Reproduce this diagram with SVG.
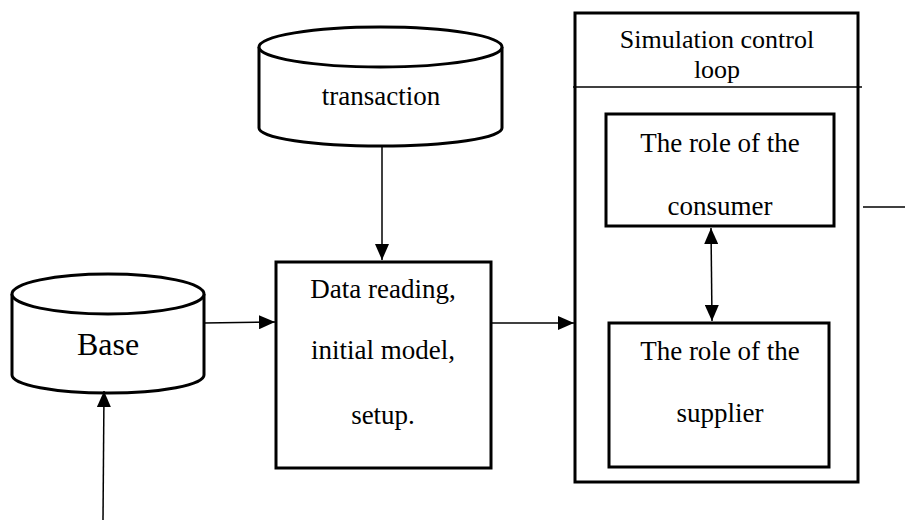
<svg xmlns="http://www.w3.org/2000/svg" width="905" height="529" viewBox="0 0 905 529">
  <style>
    .box { fill: #fff; stroke: #000; stroke-width: 3; }
    .edge { fill: none; stroke: #000; stroke-width: 1.5; }
    .lbl { font-family: "Liberation Serif", "Times New Roman", serif; font-size: 27px; fill: #000; text-anchor: middle; }
    .ttl { font-size: 26px; }
  </style>
  <defs>
    <marker id="arr" viewBox="0 0 16 14" refX="16" refY="7" markerWidth="16" markerHeight="14" markerUnits="userSpaceOnUse" orient="auto-start-reverse">
      <path d="M0,0 L16,7 L0,14 Z" fill="#000"/>
    </marker>
  </defs>
  <rect width="905" height="529" fill="#fff"/>

  <!-- Transaction data store -->
  <g id="transaction">
    <path class="box" d="M259,47 L259,128 A121.5,18 0 0 0 502,128 L502,47"/>
    <ellipse class="box" cx="380.5" cy="47" rx="121.5" ry="20"/>
    <text class="lbl" x="381" y="105">transaction</text>
  </g>

  <!-- Base data store -->
  <g id="base">
    <path class="box" d="M12,294 L12,375 A96,18 0 0 0 204,375 L204,294"/>
    <ellipse class="box" cx="108" cy="294" rx="96" ry="20"/>
    <text class="lbl" x="108" y="355" style="font-size:32px">Base</text>
  </g>

  <!-- Data reading / setup step -->
  <g id="setup">
    <rect class="box" x="276" y="262" width="215" height="206"/>
    <text class="lbl" x="383" y="298">Data reading,</text>
    <text class="lbl" x="383" y="359">initial model,</text>
    <text class="lbl" x="383" y="424">setup.</text>
  </g>

  <!-- Simulation control loop container -->
  <g id="loop">
    <rect class="box" x="575" y="13" width="283" height="469"/>
    <line x1="573" y1="87" x2="862" y2="87" stroke="#000" stroke-width="1.5"/>
    <text class="lbl ttl" x="717" y="48">Simulation control</text>
    <text class="lbl ttl" x="717" y="78">loop</text>
  </g>

  <!-- Consumer role -->
  <g id="consumer">
    <rect class="box" x="606" y="114" width="228" height="112"/>
    <text class="lbl" x="720" y="152">The role of the</text>
    <text class="lbl" x="720" y="215">consumer</text>
  </g>

  <!-- Supplier role -->
  <g id="supplier">
    <rect class="box" x="609" y="323" width="220" height="144"/>
    <text class="lbl" x="720" y="360">The role of the</text>
    <text class="lbl" x="720" y="422">supplier</text>
  </g>

  <!-- Connectors -->
  <g id="connectors">
    <line class="edge" x1="382" y1="146" x2="382" y2="260" marker-end="url(#arr)"/>
    <line class="edge" x1="204" y1="323" x2="275" y2="322" marker-end="url(#arr)"/>
    <line class="edge" x1="491" y1="323" x2="574" y2="323" marker-end="url(#arr)"/>
    <line class="edge" x1="103" y1="520" x2="104" y2="391" marker-end="url(#arr)"/>
    <line class="edge" x1="711" y1="228" x2="712" y2="321" marker-start="url(#arr)" marker-end="url(#arr)"/>
    <line class="edge" x1="863" y1="207" x2="905" y2="207"/>
  </g>
</svg>
